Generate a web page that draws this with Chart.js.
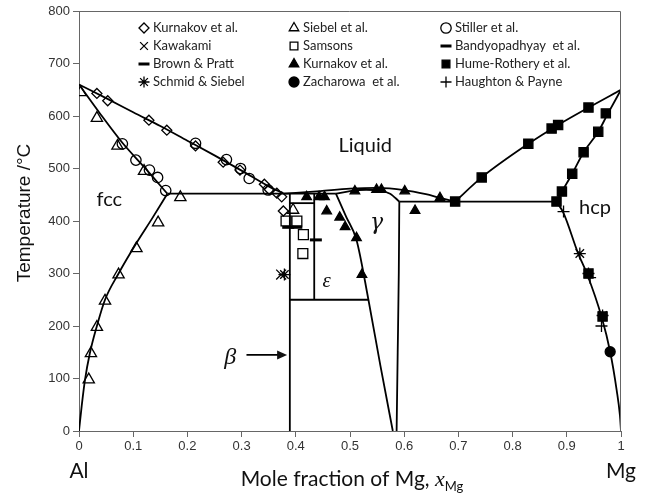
<!DOCTYPE html>
<html>
<head>
<meta charset="utf-8">
<script src="https://cdn.jsdelivr.net/npm/chart.js@4.4.1/dist/chart.umd.min.js"></script>
<style>
  html, body { margin: 0; padding: 0; background: #fff; }
  #wrap { position: relative; width: 648px; height: 495px; }
</style>
</head>
<body>
<div id="wrap"><canvas id="phaseChart" width="648" height="495"></canvas></div>
<script>
// Axis ticks
const xTicks = [0, 0.1, 0.2, 0.3, 0.4, 0.5, 0.6, 0.7, 0.8, 0.9, 1];
const yTicks = [0, 100, 200, 300, 400, 500, 600, 700, 800];

// Calculated phase boundaries, [x_Mg, T in °C]
const liquidusFcc = [[0, 660], [0.05, 634], [0.1, 607], [0.15, 581], [0.2, 553], [0.25, 525], [0.3, 496], [0.35, 466], [0.378, 452]];
const solidusFcc = [[0, 660], [0.04, 603], [0.08, 549], [0.12, 503], [0.163, 452]];
const solvusFcc = [[0, 0], [0.005, 48], [0.011, 97], [0.02, 148], [0.033, 200], [0.048, 250], [0.073, 300], [0.106, 358], [0.135, 405], [0.163, 452]];
const eutecticFcc = [[0.163, 452], [0.474, 452]];
const betaLine = [[0.389, 0], [0.389, 452]];
const epsilonLine = [[0.434, 250], [0.434, 452]];
const epsilonTop = [[0.389, 434], [0.434, 434]];
const epsilonBottom = [[0.389, 250], [0.534, 250]];
const gammaLeft = [[0.474, 452], [0.493, 408], [0.512, 364], [0.534, 250], [0.556, 125], [0.579, 0]];
const gammaRight = [[0.586, 0], [0.588, 150], [0.59, 300], [0.591, 437]];
const liquidusGamma = [[0.378, 452], [0.445, 457], [0.5, 461.5], [0.549, 463], [0.6, 459], [0.64, 451], [0.666, 444], [0.694, 437]];
const solidusGamma = [[0.474, 452], [0.5, 457], [0.53, 459.5], [0.555, 457.5], [0.574, 452], [0.591, 437]];
const eutecticHcp = [[0.591, 437], [0.881, 437]];
const liquidusHcp = [[0.694, 437], [0.743, 483], [0.829, 547], [0.884, 583], [0.94, 616], [1, 650]];
const solidusHcp = [[0.881, 437], [0.891, 456], [0.91, 490], [0.931, 531], [0.958, 570], [0.975, 603], [1, 650]];
const solvusHcp = [[0.881, 437], [0.894, 415], [0.921, 338], [0.937, 300], [0.964, 218], [0.98, 151], [0.992, 78], [0.998, 30], [1, 0]];

// Experimental points
const kurnakovOpen = [[0.033, 643], [0.053, 629], [0.129, 592], [0.162, 573], [0.215, 543], [0.266, 512], [0.297, 497], [0.342, 470], [0.351, 460], [0.365, 453], [0.374, 446], [0.377, 419]];
const siebel = [[0.003, 645], [0.033, 596], [0.071, 543], [0.12, 495], [0.187, 445], [0.146, 397], [0.106, 348], [0.073, 298], [0.048, 248], [0.033, 198], [0.022, 148], [0.018, 98], [0.395, 421]];
const stiller = [[0.08, 547], [0.105, 516], [0.13, 497], [0.145, 483], [0.16, 458], [0.215, 548], [0.272, 517], [0.298, 500], [0.314, 481], [0.349, 459]];
const kawakami = [[0.373, 298]];
const samsons = [[0.382, 400], [0.402, 400], [0.414, 374], [0.413, 338]];
const bandyopadhyay = [[0.437, 364]];
const brownPratt = [[0.386, 388], [0.401, 388]];
const kurnakovFilled = [[0.42, 446], [0.443, 446], [0.453, 446], [0.457, 419], [0.481, 407], [0.491, 389], [0.512, 368], [0.522, 298], [0.509, 457], [0.549, 460], [0.558, 460], [0.601, 457], [0.62, 420], [0.666, 444]];
const humeRothery = [[0.694, 437], [0.743, 483], [0.829, 547], [0.872, 576], [0.884, 583], [0.94, 616], [0.972, 605], [0.958, 570], [0.931, 531], [0.91, 490], [0.891, 456], [0.881, 437], [0.94, 300], [0.966, 218]];
const schmidSiebel = [[0.379, 298], [0.924, 338], [0.94, 300], [0.966, 220]];
const zacharowa = [[0.98, 151]];
const haughtonPayne = [[0.894, 418], [0.943, 292], [0.964, 200]];

const toPoints = arr => arr.map(([x, y]) => ({ x, y }));

// Boundary curves: drawn as plain black lines
const boundaries = [liquidusFcc, solidusFcc, solvusFcc, eutecticFcc, betaLine, epsilonLine, epsilonTop,
  epsilonBottom, gammaLeft, gammaRight, liquidusGamma, solidusGamma, eutecticHcp, liquidusHcp, solidusHcp, solvusHcp];

// Marker series, in legend order (row by row, three columns)
const series = [
  { label: 'Kurnakov et al.', data: kurnakovOpen, style: 'rectRot', r: 5, fill: false },
  { label: 'Siebel et al.', data: siebel, style: 'triangle', r: 6.5, fill: false },
  { label: 'Stiller et al.', data: stiller, style: 'circle', r: 5.2, fill: false },
  { label: 'Kawakami', data: kawakami, style: 'crossRot', r: 7, fill: false },
  { label: 'Samsons', data: samsons, style: 'rect', r: 7, fill: false },
  { label: 'Bandyopadhyay  et al.', data: bandyopadhyay, style: 'line', r: 6, fill: false, bw: 3 },
  { label: 'Brown & Pratt', data: brownPratt, style: 'line', r: 6, fill: false, bw: 3 },
  { label: 'Kurnakov et al.', data: kurnakovFilled, style: 'triangle', r: 5.5, fill: true },
  { label: 'Hume-Rothery et al.', data: humeRothery, style: 'rect', r: 6.5, fill: true },
  { label: 'Schmid & Siebel', data: schmidSiebel, style: 'star', r: 6, fill: false },
  { label: 'Zacharowa  et al.', data: zacharowa, style: 'circle', r: 5, fill: true },
  { label: 'Haughton & Payne', data: haughtonPayne, style: 'cross', r: 6, fill: false }
];

const datasets = [];
series.forEach(s => {
  datasets.push({
    label: s.label,
    data: toPoints(s.data),
    showLine: false,
    pointStyle: s.style,
    pointRadius: s.r,
    pointBorderWidth: s.bw || 1.3,
    pointBorderColor: '#000',
    pointBackgroundColor: s.fill ? '#000' : 'rgba(0,0,0,0)',
    order: 0
  });
});
boundaries.forEach(b => {
  datasets.push({
    data: toPoints(b),
    showLine: true,
    pointRadius: 0,
    borderColor: '#000',
    borderWidth: 1.8,
    cubicInterpolationMode: 'monotone',
    order: 1
  });
});

// Frame on the top and right side of the plot
const framePlugin = {
  id: 'frame',
  afterDraw(chart) {
    const { ctx, chartArea: a } = chart;
    ctx.save();
    ctx.strokeStyle = '#666';
    ctx.lineWidth = 1;
    ctx.beginPath();
    ctx.moveTo(a.left, a.top + 0.5);
    ctx.lineTo(a.right - 0.5, a.top + 0.5);
    ctx.lineTo(a.right - 0.5, a.bottom);
    ctx.stroke();
    ctx.restore();
  }
};

// Phase labels, arrow and axis titles
const textPlugin = {
  id: 'phaseText',
  afterDraw(chart) {
    const { ctx, chartArea: a } = chart;
    const xs = chart.scales.x, ys = chart.scales.y;
    const px = v => xs.getPixelForValue(v);
    const py = v => ys.getPixelForValue(v);
    ctx.save();
    ctx.fillStyle = '#111';
    ctx.textAlign = 'center';
    ctx.textBaseline = 'middle';

    ctx.font = '20px Lato';
    ctx.fillText('Liquid', px(0.528), py(543));
    ctx.fillText('fcc', px(0.056), py(440));
    ctx.fillText('hcp', px(0.952), py(425));

    ctx.font = 'italic 22px "DejaVu Serif"';
    ctx.fillText('γ', px(0.549), py(396));
    ctx.font = 'italic 21px "Liberation Serif"';
    ctx.fillText('ε', px(0.457), py(284));
    ctx.font = 'italic 24px "Liberation Serif"';
    ctx.fillText('β', px(0.279), py(140));

    // arrow pointing at the beta line
    const ay = py(145), ax0 = px(0.309), ax1 = px(0.384);
    ctx.strokeStyle = '#000';
    ctx.lineWidth = 1.8;
    ctx.beginPath();
    ctx.moveTo(ax0, ay);
    ctx.lineTo(ax1 - 8, ay);
    ctx.stroke();
    ctx.beginPath();
    ctx.moveTo(ax1, ay);
    ctx.lineTo(ax1 - 10, ay - 4.5);
    ctx.lineTo(ax1 - 10, ay + 4.5);
    ctx.closePath();
    ctx.fill();

    // y axis title
    ctx.save();
    ctx.translate(a.left - 54, 213);
    ctx.rotate(-Math.PI / 2);
    ctx.font = '19px "Liberation Sans"';
    ctx.fillText('Temperature /°C', 0, 0);
    ctx.restore();

    // x axis title with italic x and subscript
    ctx.textBaseline = 'alphabetic';
    ctx.textAlign = 'left';
    const main = 'Mole fraction of Mg, ';
    ctx.font = '21px Lato';
    const w1 = ctx.measureText(main).width;
    ctx.font = 'italic 22px "Liberation Serif"';
    const w2 = ctx.measureText('x').width;
    ctx.font = '13px Lato';
    const w3 = ctx.measureText('Mg').width;
    let tx = 352 - (w1 + w2 + w3) / 2;
    const base = 486;
    ctx.font = '21px Lato';
    ctx.fillText(main, tx, base);
    tx += w1;
    ctx.font = 'italic 22px "Liberation Serif"';
    ctx.fillText('x', tx, base);
    tx += w2;
    ctx.font = '13px Lato';
    ctx.fillText('Mg', tx, base + 5);

    ctx.textAlign = 'center';
    ctx.font = '21px Lato';
    ctx.fillText('Al', px(0), 478);
    ctx.fillText('Mg', px(1), 478);
    ctx.restore();
  }
};

// Three-column legend inside the plot
const legendPlugin = {
  id: 'colLegend',
  afterDraw(chart) {
    const { ctx } = chart;
    const markX = [144, 294, 446];
    const textX = [153, 303, 455];
    const rowY = [28, 46, 64, 82];
    ctx.save();
    ctx.font = '13px Lato';
    ctx.textBaseline = 'middle';
    ctx.textAlign = 'left';
    series.forEach((s, i) => {
      const col = i % 3, row = Math.floor(i / 3);
      const x = markX[col], y = rowY[row];
      ctx.fillStyle = s.fill ? '#000' : 'rgba(0,0,0,0)';
      ctx.strokeStyle = '#000';
      ctx.lineWidth = s.bw || 1.3;
      Chart.helpers.drawPoint(ctx, {
        pointStyle: s.style,
        radius: Math.min(s.r, 5.5),
        rotation: 0,
        borderWidth: s.bw || 1.3
      }, x, y);
      ctx.fillStyle = '#222';
      ctx.fillText(s.label, textX[col], y);
    });
    ctx.restore();
  }
};

const axisCommon = {
  type: 'linear',
  grid: { display: true, drawOnChartArea: false, drawTicks: true, tickLength: 6, color: '#666', lineWidth: 1 },
  border: { display: true, color: '#666', width: 1 },
  ticks: {
    font: { family: 'Liberation Sans', size: 13 },
    color: '#333',
    autoSkip: false,
    maxRotation: 0,
    callback: v => String(v)
  }
};

new Chart(document.getElementById('phaseChart'), {
  type: 'scatter',
  data: { datasets },
  options: {
    responsive: false,
    animation: false,
    layout: { padding: { top: 11, right: 27, left: 0, bottom: 0 } },
    plugins: { legend: { display: false }, tooltip: { enabled: false } },
    scales: {
      x: {
        ...axisCommon,
        min: 0, max: 1,
        ticks: { ...axisCommon.ticks, padding: 2 },
        afterBuildTicks: s => { s.ticks = xTicks.map(v => ({ value: v })); },
        afterFit: s => { s.height = 64; }
      },
      y: {
        ...axisCommon,
        min: 0, max: 800,
        ticks: { ...axisCommon.ticks, padding: 3 },
        afterBuildTicks: s => { s.ticks = yTicks.map(v => ({ value: v })); },
        afterFit: s => { s.width = 79; }
      }
    }
  },
  plugins: [framePlugin, textPlugin, legendPlugin]
});
</script>
</body>
</html>
